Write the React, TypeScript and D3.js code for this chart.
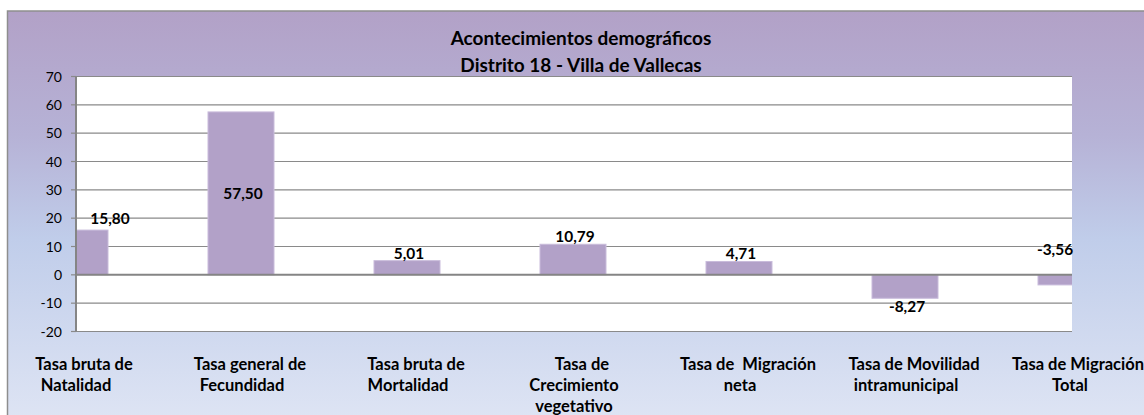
import React from "react";
import * as d3 from "d3";

const titleLines = ["Acontecimientos demográficos", "Distrito 18 - Villa de Vallecas"];
const categories = [
  "Tasa bruta de Natalidad",
  "Tasa general de Fecundidad",
  "Tasa bruta de Mortalidad",
  "Tasa de Crecimiento vegetativo",
  "Tasa de Migración neta",
  "Tasa de Movilidad intramunicipal",
  "Tasa de Migración Total",
];
const categoryLines = [
  ["Tasa bruta de", "Natalidad"],
  ["Tasa general de", "Fecundidad"],
  ["Tasa bruta de", "Mortalidad"],
  ["Tasa de", "Crecimiento", "vegetativo"],
  ["Tasa de  Migración", "neta"],
  ["Tasa de Movilidad", "intramunicipal"],
  ["Tasa de Migración", "Total"],
];
const values = [15.8, 57.5, 5.01, 10.79, 4.71, -8.27, -3.56];
const valueLabels = ["15,80", "57,50", "5,01", "10,79", "4,71", "-8,27", "-3,56"];
const labelPlacement = ["outside", "center", "outside", "outside", "outside", "outside", "above"];
const yTicks = [-20, -10, 0, 10, 20, 30, 40, 50, 60, 70];

const W = 1144;
const H = 415;
const plot = { left: 76, right: 1072, top: 76.5, bottom: 331.5 };
const FONT = "Lato, 'Open Sans', sans-serif";

export default function App() {
  const y = d3.scaleLinear().domain([-20, 70]).range([plot.bottom, plot.top]);
  const x = d3.scalePoint<string>().domain(categories).range([75, 1071]).padding(0);
  const barW = 66;
  const bold = { fontFamily: FONT, fontWeight: 700, fill: "#000" } as const;

  return (
    <svg width={W} height={H} style={{ position: "absolute", left: 0, top: 0 }}>
      <defs>
        <linearGradient id="bg" x1="0" y1="0" x2="0" y2="1">
          <stop offset="0%" stopColor="#b2a1c7" />
          <stop offset="30%" stopColor="#b6b2d6" />
          <stop offset="55%" stopColor="#c0cdea" />
          <stop offset="100%" stopColor="#dfe5f4" />
        </linearGradient>
        <clipPath id="plotClip">
          <rect x={plot.left} y={plot.top} width={plot.right - plot.left} height={plot.bottom - plot.top} />
        </clipPath>
      </defs>
      <rect x={0} y={0} width={W} height={H} fill="#fff" />
      <rect x={7.5} y={11} width={W} height={H} fill="url(#bg)" stroke="#8e8e8e" strokeWidth={1.5} />

      {titleLines.map((t, i) => (
        <text key={t} x={581} y={45 + i * 26.5} textAnchor="middle" fontSize={19} {...bold}>
          {t}
        </text>
      ))}

      <rect x={plot.left} y={plot.top} width={plot.right - plot.left} height={plot.bottom - plot.top} fill="#fff" />

      {yTicks.map((t) => (
        <g key={t}>
          {t !== 0 && (
            <line x1={plot.left} x2={plot.right} y1={y(t)} y2={y(t)} stroke="#8a8a8a" strokeWidth={1.2} />
          )}
          <line x1={71} x2={plot.left} y1={y(t)} y2={y(t)} stroke="#8a8a8a" strokeWidth={1.2} />
          <text x={62} y={y(t)} dy="0.36em" textAnchor="end" fontSize={14} fontFamily={FONT} fill="#000">
            {t}
          </text>
        </g>
      ))}

      <g clipPath="url(#plotClip)">
        {values.map((v, i) => {
          const cx = x(categories[i])!;
          const y0 = y(Math.max(0, v));
          const y1 = y(Math.min(0, v));
          return (
            <rect key={i} x={cx - barW / 2} y={y0} width={barW} height={y1 - y0} fill="#b2a1c8" stroke="#c9bcdb" strokeWidth={1} />
          );
        })}
      </g>

      <line x1={plot.left} x2={plot.right} y1={y(0)} y2={y(0)} stroke="#858585" strokeWidth={2} />
      <line x1={plot.left} x2={plot.left} y1={plot.top} y2={plot.bottom} stroke="#858585" strokeWidth={2} />

      {values.map((v, i) => {
        const cx0 = x(categories[i])! + 2;
        const cx = Math.min(Math.max(cx0, plot.left + 34), plot.right - 17);
        const p = labelPlacement[i];
        let ly: number;
        let dy: string;
        if (p === "center") {
          ly = (y(v) + y(0)) / 2;
          dy = "0.36em";
        } else if (p === "above") {
          ly = y(0) - 20;
          dy = "0";
        } else if (v >= 0) {
          ly = y(v) - (i === 0 ? 6 : 2);
          dy = "0";
        } else {
          ly = y(v) + 1;
          dy = "0.8em";
        }
        return (
          <text key={i} x={cx} y={ly} dy={dy} textAnchor="middle" fontSize={15.4} {...bold}>
            {valueLabels[i]}
          </text>
        );
      })}

      {categoryLines.map((lines, i) => {
        const cx = Math.min(x(categories[i])! + 1, W - 74);
        const lh = 21;
        return (
          <text key={i} textAnchor="middle" fontSize={16.5} {...bold} style={{ whiteSpace: "pre" }}>
            {lines.map((l, j) => (
              <tspan key={j} x={cx + (j === 0 && lines.length > 1 ? 8 : 0)} y={370 + j * lh}>
                {l}
              </tspan>
            ))}
          </text>
        );
      })}
    </svg>
  );
}
